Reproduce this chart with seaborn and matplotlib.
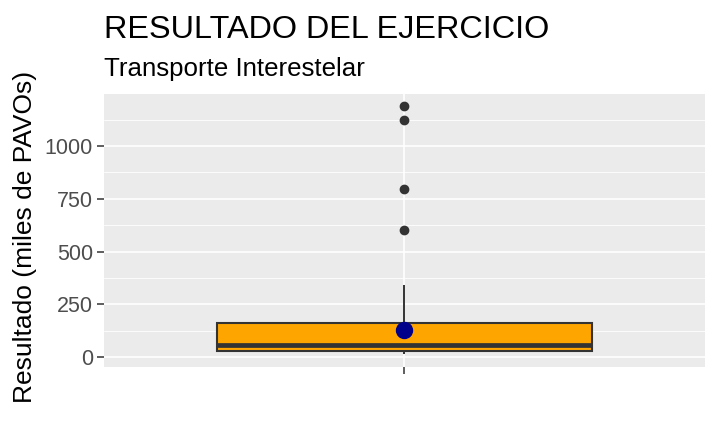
import numpy as np
import matplotlib
matplotlib.use("Agg")
import matplotlib.pyplot as plt
import seaborn as sns

# resultados (miles de PAVOs), ordenados
bajos = [13, 14, 15, 16, 17, 18, 19, 20, 21, 21, 22, 23, 24, 25, 26, 27, 27, 28, 29]
medios = [30, 31, 32, 34, 35, 36, 38, 39, 41, 42, 44, 45, 47, 48, 50, 52, 54, 55]
altos = [57, 59, 61, 63, 65, 67, 69, 72, 74, 77, 80, 83, 87, 91, 96, 102, 113, 163]
muy_altos = [165, 168, 170, 172, 175, 178, 180, 185, 190, 198, 210, 235, 280, 340]
atipicos = [604, 798, 1125, 1188]

resultado = np.array(bajos + medios + altos + muy_altos + atipicos)
grupo = [""] * len(resultado)

sns.set_theme(style="darkgrid")
plt.rcParams['font.family'] = ['Liberation Sans', 'DejaVu Sans']

fig = plt.figure(figsize=(7.19, 4.44), dpi=100)
ax = fig.add_axes([104/719, 1 - 366.7/444, (705-104)/719, (366.7-94)/444])
ax.set_facecolor("#EBEBEB")

sns.boxplot(x=grupo, y=resultado, ax=ax, width=0.75, color="orange",
            linecolor="#333333", linewidth=1.5, saturation=1,
            showcaps=False,
            medianprops=dict(linewidth=3.4, color="#333333"),
            whiskerprops=dict(linewidth=1.4, color="#333333"),
            flierprops=dict(marker="o", markersize=6, markerfacecolor="#333333",
                            markeredgecolor="#333333"))

# media
ax.plot([0], [resultado.mean()], "o", color="darkblue", markersize=11.5, zorder=5)

rango = resultado.max() - resultado.min()
ax.set_ylim(resultado.min() - 0.05*rango, resultado.max() + 0.05*rango)
ax.set_xlim(-0.6, 0.6)
ax.set_yticks([0, 250, 500, 750, 1000])
ax.set_yticks([125, 375, 625, 875, 1125], minor=True)
ax.grid(which="major", color="white", linewidth=1.2)
ax.grid(which="minor", axis="y", color="white", linewidth=0.6)
ax.set_axisbelow(True)
for s in ax.spines.values():
    s.set_visible(False)

ax.tick_params(axis="both", which="major", length=5, width=1.1, color="#333333",
               labelsize=15.5, labelcolor="#4D4D4D", pad=3, left=True, bottom=True)
ax.tick_params(axis="y", which="minor", length=0)
ax.set_xticklabels([""])
ax.set_xlabel("")
ax.set_ylabel("Resultado (miles de PAVOs)", fontsize=19, color="black")
ax.yaxis.set_label_coords(-0.112, 0.475)

fig.text(104/719, 1 - 38.3/444, "RESULTADO DEL EJERCICIO", fontsize=23.3,
         ha="left", va="baseline", color="black")
fig.text(104/719, 1 - 75.7/444, "Transporte Interestelar", fontsize=18.6,
         ha="left", va="baseline", color="black")

fig.savefig("out.png", dpi=100)
